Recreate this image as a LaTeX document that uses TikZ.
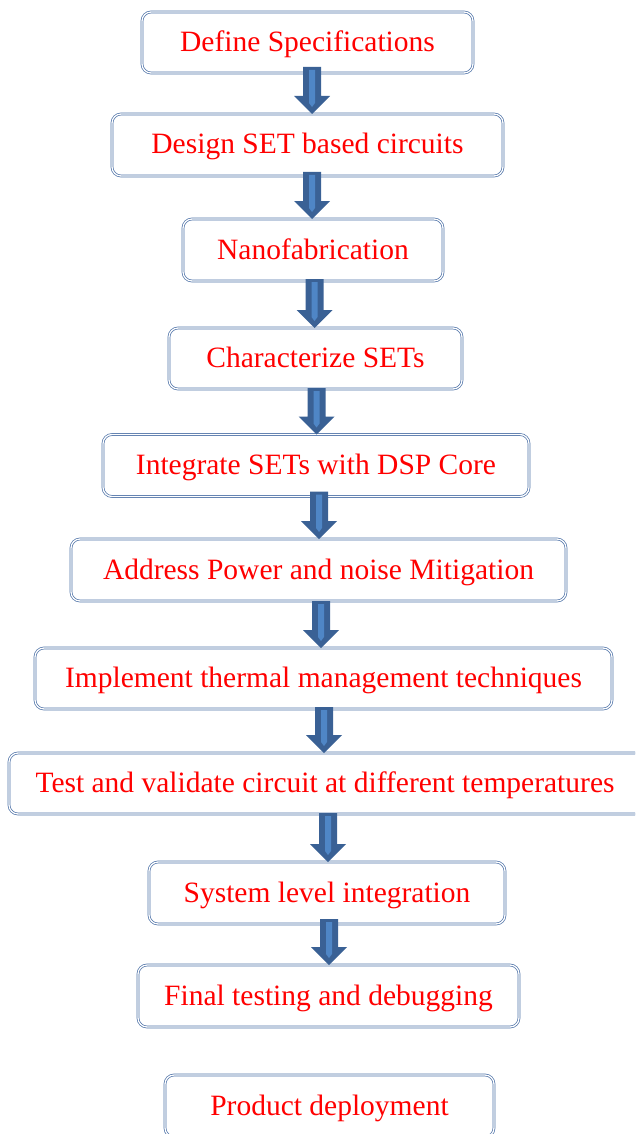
\documentclass[tikz,border=0pt]{standalone}
\usepackage{fontspec}
\setmainfont{Liberation Serif}
\usetikzlibrary{calc}

\definecolor{boxedge}{HTML}{4F73A8}
\definecolor{arrowdark}{HTML}{3A6195}
\definecolor{arrowlight}{HTML}{4F86C6}
\definecolor{steptext}{HTML}{FF0000}

\tikzset{
  steplabel/.style={
    text=steptext, font=\fontsize{29.5}{32}\selectfont,
    text height=21pt, text depth=3pt
  },
  stepbox/.style={
    steplabel,
    draw=boxedge, line width=0.7pt, double=white, double distance=1.3pt,
    rounded corners=9pt, fill=white,
    inner sep=0pt, outer sep=0pt, minimum height=62pt
  }
}

% Block arrow from the point #1 straight down to the height of #2
\newcommand\flowarrow[2]{%
  \fill[arrowdark] let \p1=(#1), \p2=(#2) in
    (\x1-9pt,\y1) -- (\x1+9pt,\y1) -- (\x1+9pt,\y2+18pt) -- (\x1+18pt,\y2+18pt)
    -- (\x1,\y2) -- (\x1-18pt,\y2+18pt) -- (\x1-9pt,\y2+18pt) -- cycle;
  \fill[arrowlight] let \p1=(#1), \p2=(#2) in
    (\x1-3pt,\y1-3pt) -- (\x1+3pt,\y1-3pt) -- (\x1+3pt,\y2+11pt)
    -- (\x1,\y2+7pt) -- (\x1-3pt,\y2+11pt) -- cycle;
}

\begin{document}
\begin{tikzpicture}[x=1pt,y=-1pt]
\useasboundingbox (0,0) rectangle (635,1134);
\clip (0,0) rectangle (635,1134);

\node[stepbox, minimum width=331pt, minimum height=61pt] (b1)  at (307.5,42.5) {Define Specifications};
\node[stepbox, minimum width=391pt] (b2)  at (307.5,145)  {Design SET based circuits};
\node[stepbox, minimum width=260pt] (b3)  at (313,250)    {Nanofabrication};
\node[stepbox, minimum width=293pt, minimum height=61pt] (b4)  at (315.5,358.5) {Characterize SETs};
\node[stepbox, minimum width=426pt] (b5)  at (316,465.5)  {Integrate SETs with DSP Core};
\node[stepbox, minimum width=495pt] (b6)  at (318.5,570)  {Address Power and noise Mitigation};
\node[stepbox, minimum width=577pt, minimum height=61pt] (b7)  at (323.5,678.5) {Implement thermal management techniques};
\node[stepbox, minimum width=636pt, minimum height=61pt] (b8)  at (327,783.5)  {};
\node[steplabel] (t8) at (325,783.5) {Test and validate circuit at different temperatures};
\node[stepbox, minimum width=356pt] (b9)  at (327,893)    {System level integration};
\node[stepbox, minimum width=381pt] (b10) at (328.5,996)  {Final testing and debugging};
\node[stepbox, minimum width=329pt] (b11) at (329.5,1106) {Product deployment};

\flowarrow{[xshift=4.5pt,yshift=6pt]b1.south}{b2.north}
\flowarrow{[xshift=4.5pt,yshift=4pt]b2.south}{b3.north}
\flowarrow{[xshift=1.5pt,yshift=2pt]b3.south}{b4.north}
\flowarrow{[xshift=1pt,yshift=1pt]b4.south}{b5.north}
\flowarrow{[xshift=3pt,yshift=5pt]b5.south}{b6.north}
\flowarrow{[xshift=2.5pt,yshift=0pt]b6.south}{b7.north}
\flowarrow{[xshift=0.5pt,yshift=2pt]b7.south}{b8.north}
\flowarrow{[xshift=1pt,yshift=1pt]b8.south}{b9.north}
\flowarrow{[xshift=2pt,yshift=5pt]b9.south}{b10.north}
\end{tikzpicture}
\end{document}
